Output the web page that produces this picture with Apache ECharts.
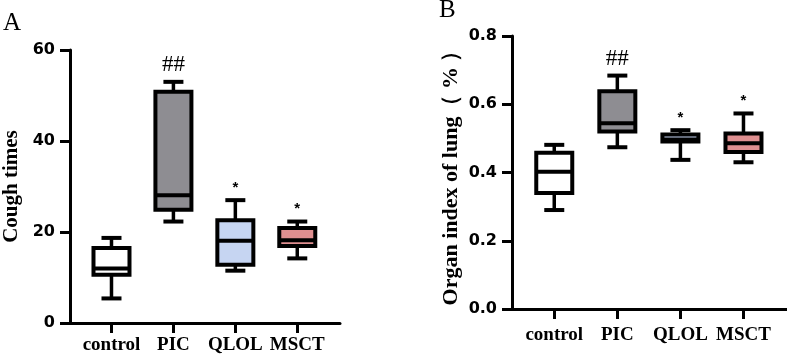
<!DOCTYPE html>
<html>
<head>
<meta charset="utf-8">
<script src="https://cdn.jsdelivr.net/npm/echarts@6/dist/echarts.min.js"></script>
<style>
  html, body { margin: 0; padding: 0; background: #fff; }
  #main { width: 787px; height: 358px; }
</style>
</head>
<body>
<div id="main"></div>
<script>
// groups on the x axis
const categories = ['control', 'PIC', 'QLOL', 'MSCT'];
// [min, Q1, median, Q3, max] for each group
const coughTimes = [
  [5.4, 10.6, 12.0, 16.5, 18.7],
  [22.3, 24.9, 28.1, 50.8, 53.0],
  [11.5, 12.8, 18.1, 22.6, 27.0],
  [14.2, 16.9, 18.2, 20.9, 22.3]
];
const lungIndex = [
  [0.290, 0.340, 0.402, 0.458, 0.481],
  [0.474, 0.520, 0.544, 0.638, 0.684],
  [0.437, 0.491, 0.497, 0.511, 0.524],
  [0.430, 0.460, 0.486, 0.514, 0.573]
];
// significance marks above each box
const signs = ['', '##', '*', '*'];
const catPositions = [0, 1, 2, 3];

const fills = ['#ffffff', '#8e8d92', '#c6d5f2', '#df8f90'];

const chart = echarts.init(document.getElementById('main'));

// box with half width whisker caps
function renderBox (params, api) {
  const x = api.value(0);
  const pMin = api.coord([x, api.value(1)]);
  const pQ1 = api.coord([x, api.value(2)]);
  const pMed = api.coord([x, api.value(3)]);
  const pQ3 = api.coord([x, api.value(4)]);
  const pMax = api.coord([x, api.value(5)]);
  const cx = pMed[0];
  const half = 18;
  const cap = 10;
  const i = params.dataIndex;
  const line = (x1, y1, x2, y2, w) => ({
    type: 'line',
    shape: { x1: x1, y1: y1, x2: x2, y2: y2 },
    style: { stroke: '#000', lineWidth: w }
  });
  return {
    type: 'group',
    children: [
      line(cx, pQ3[1], cx, pMax[1], 3.5),
      line(cx - cap, pMax[1], cx + cap, pMax[1], 4),
      line(cx, pQ1[1], cx, pMin[1], 3.5),
      line(cx - cap, pMin[1], cx + cap, pMin[1], 4),
      {
        type: 'rect',
        shape: { x: cx - half, y: pQ3[1], width: half * 2, height: pQ1[1] - pQ3[1] },
        style: { fill: fills[i], stroke: '#000', lineWidth: 4 }
      },
      line(cx - half, pMed[1], cx + half, pMed[1], 4),
      {
        type: 'text',
        x: cx,
        y: pMax[1] - 5,
        style: {
          text: signs[i],
          align: 'center',
          verticalAlign: 'bottom',
          fill: '#000',
          font: signs[i] === '##' ? 'normal 23px "Liberation Serif", "Times New Roman", serif'
                                  : 'bold 15px "Liberation Sans", Arial, sans-serif'
        }
      }
    ]
  };
}

function toRows (boxes) {
  return boxes.map((b, i) => [catPositions[i]].concat(b));
}

function xAxisFor (gridIndex, margin) {
  return {
    gridIndex: gridIndex,
    type: 'value',
    min: -0.67,
    max: 3.69,
    splitLine: { show: false },
    axisLine: { show: true, onZero: false, lineStyle: { color: '#000', width: 3 } },
    axisTick: { show: true, customValues: catPositions, length: 10, lineStyle: { color: '#000', width: 3 } },
    axisLabel: {
      customValues: catPositions,
      formatter: v => categories[Math.round(v)],
      margin: margin,
      color: '#000',
      fontFamily: '"Liberation Serif", "Times New Roman", serif',
      fontWeight: 'bold',
      fontSize: 19
    }
  };
}

function yAxisFor (gridIndex, name, max, interval, digits, nameGap, nameSize) {
  return {
    gridIndex: gridIndex,
    type: 'value',
    min: 0,
    max: max,
    interval: interval,
    name: name,
    nameLocation: 'middle',
    nameRotate: 90,
    nameGap: nameGap,
    nameTextStyle: {
      color: '#000',
      fontFamily: '"Liberation Serif", "Times New Roman", serif',
      fontWeight: 'bold',
      fontSize: nameSize
    },
    splitLine: { show: false },
    axisLine: { show: true, onZero: false, lineStyle: { color: '#000', width: 3 } },
    axisTick: { show: true, length: 10, lineStyle: { color: '#000', width: 3 } },
    axisLabel: {
      margin: 15,
      formatter: v => v.toFixed(digits),
      color: '#000',
      fontFamily: '"DejaVu Sans", Arial, sans-serif',
      fontWeight: 'bold',
      fontSize: 16
    }
  };
}

const option = {
  animation: false,
  graphic: [
    { type: 'text', left: 3, top: 11, style: { text: 'A', font: 'normal 25px "Liberation Serif", "Times New Roman", serif', fill: '#000' } },
    { type: 'text', left: 439, top: -2, style: { text: 'B', font: 'normal 25px "Liberation Serif", "Times New Roman", serif', fill: '#000' } }
  ],
  grid: [
    { left: 67, top: 50, width: 273, height: 273, containLabel: false },
    { left: 512, top: 36, width: 275, height: 273, containLabel: false }
  ],
  xAxis: [xAxisFor(0, 13), xAxisFor(1, 17)],
  yAxis: [
    yAxisFor(0, 'Cough times', 60, 20, 0, 48, 21),
    yAxisFor(1, 'Organ index of lung（ % ）', 0.8, 0.2, 1, 50, 22)
  ],
  series: [
    {
      type: 'custom',
      xAxisIndex: 0,
      yAxisIndex: 0,
      clip: false,
      renderItem: renderBox,
      encode: { x: 0, y: [1, 2, 3, 4, 5] },
      data: toRows(coughTimes)
    },
    {
      type: 'custom',
      xAxisIndex: 1,
      yAxisIndex: 1,
      clip: false,
      renderItem: renderBox,
      encode: { x: 0, y: [1, 2, 3, 4, 5] },
      data: toRows(lungIndex)
    }
  ]
};

chart.setOption(option);
</script>
</body>
</html>
